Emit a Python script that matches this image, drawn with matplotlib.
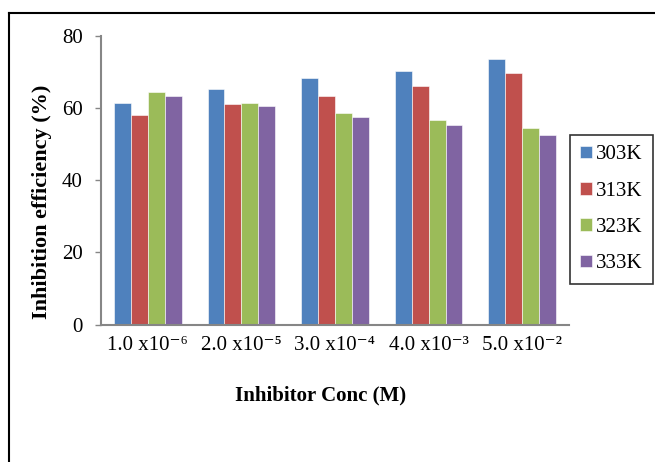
import matplotlib
matplotlib.use("Agg")
import matplotlib.pyplot as plt
import matplotlib.lines as mlines
import numpy as np

plt.rcParams['font.family'] = ['Liberation Serif', 'DejaVu Serif']

konc = ["1.0 x10⁻⁶", "2.0 x10⁻⁵", "3.0 x10⁻⁴", "4.0 x10⁻³", "5.0 x10⁻²"]
temperatury = ["303K", "313K", "323K", "333K"]
ie_303 = [61.3, 65.2, 68.2, 70.2, 73.5]
ie_313 = [58.1, 61.2, 63.3, 66.2, 69.6]
ie_323 = [64.3, 61.3, 58.5, 56.6, 54.5]
ie_333 = [63.3, 60.5, 57.4, 55.4, 52.4]
kolory = ["#4F81BD", "#C0504D", "#9BBB59", "#8064A2"]

fig = plt.figure(figsize=(6.55, 4.62), dpi=100)
ax = fig.add_axes([101/655, 1-324.7/462, 468/655, 289/462])

x = np.arange(len(konc))
w = 0.181
serie = [ie_303, ie_313, ie_323, ie_333]
for i, s in enumerate(serie):
    ax.bar(x + (i-1.5)*w, s, w, color=kolory[i], label=temperatury[i],
           edgecolor="white", linewidth=0.4)

ax.set_xlim(-0.5, 4.5)
ax.set_ylim(0, 80)
ax.set_yticks([0, 20, 40, 60, 80])
ax.set_xticks(x)
ax.set_xticklabels(konc, fontsize=15)
ax.tick_params(axis="y", labelsize=15, length=4.3, color="#868686", width=1, pad=9)
ax.tick_params(axis="x", length=0, pad=8)
for s in ["top", "right"]:
    ax.spines[s].set_visible(False)
for s in ["left", "bottom"]:
    ax.spines[s].set_color("#868686")
    ax.spines[s].set_linewidth(1.5)

fig.text(42/655, 1-202/462, "Inhibition efficiency (%)", rotation=90,
         ha="center", va="center", fontsize=16, fontweight="bold")
fig.text(321/655, 1-395/462, "Inhibitor Conc (M)", ha="center", va="center",
         fontsize=15, fontweight="bold")

leg = ax.legend(loc="upper left", bbox_to_anchor=(570/655, 1-135/462),
                bbox_transform=fig.transFigure, fontsize=15, frameon=True,
                fancybox=False, handlelength=0.55, handleheight=0.55,
                handletextpad=0.2, labelspacing=0.83, borderpad=0.5,
                borderaxespad=0)
leg.get_frame().set_edgecolor("black")
leg.get_frame().set_linewidth(1.2)

# ramka wykresu
fig.add_artist(mlines.Line2D([8.5/655, 1], [1-12.5/462, 1-12.5/462],
                             transform=fig.transFigure, color="black", lw=1.5))
fig.add_artist(mlines.Line2D([8.5/655, 8.5/655], [0, 1-12.5/462],
                             transform=fig.transFigure, color="black", lw=1.5))

fig.savefig("out.png", dpi=100)
